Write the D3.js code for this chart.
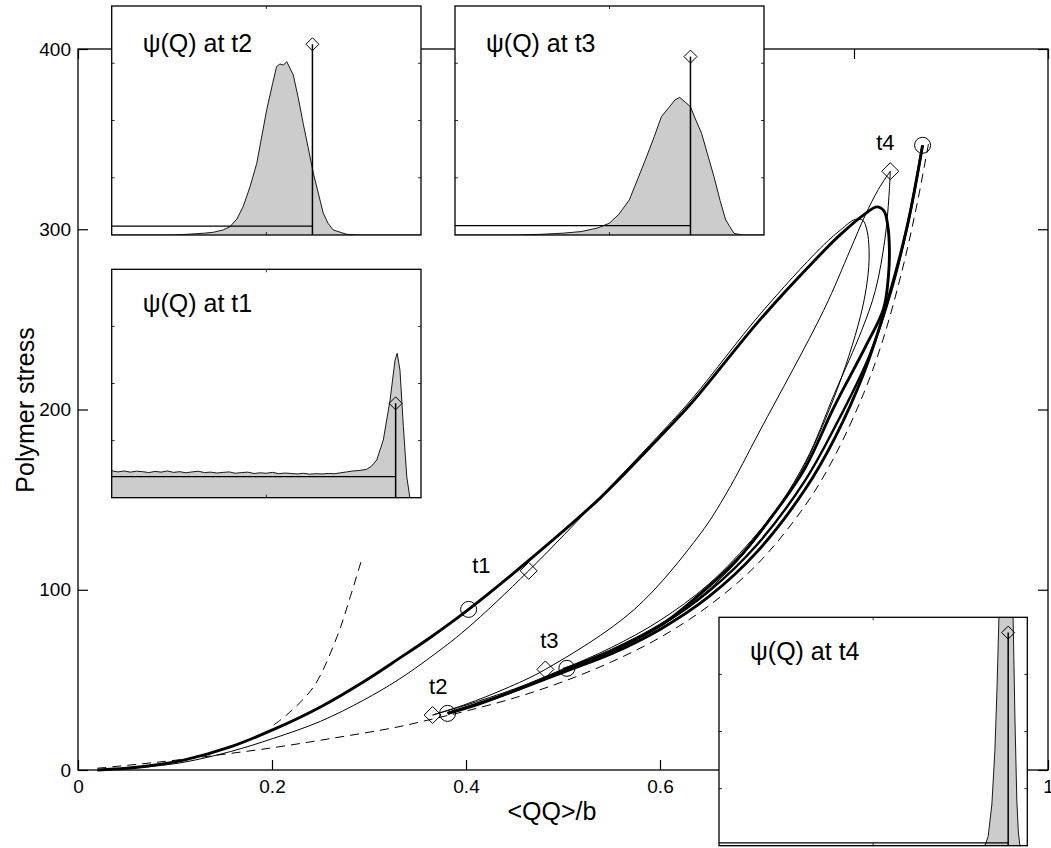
<!DOCTYPE html>
<html>
<head>
<meta charset="utf-8">
<script src="https://cdn.jsdelivr.net/npm/d3@7"></script>
<style>
  body { margin: 0; background: #fff; }
  text { font-family: 'Liberation Sans', Arial, Helvetica, sans-serif; fill: #000; }
</style>
</head>
<body>
<script>
// main axes ticks
const xTicks = [0, 0.2, 0.4, 0.6, 0.8, 1]
const yTicks = [0, 100, 200, 300, 400]

// thick line: start-up, overshoot loop, relaxation down to t2
const thickA = [[0.02,0],[0.05,1],[0.08,2.8],[0.11,5.6],[0.157,12.8],[0.2017,22.5],[0.25,35],[0.2945,49],
  [0.33,61.5],[0.3632,73.5],[0.4027,89.1],[0.4663,117],[0.5385,151],[0.6037,187],[0.6347,205],[0.7034,250],
  [0.7653,286],[0.7859,297],[0.81,308],[0.8237,312.4],[0.8310,310],[0.8348,302],[0.8365,289],[0.8355,274],
  [0.8305,256],[0.812,235],[0.78,202],[0.75,168],[0.72,144],[0.68,117],[0.64,97],[0.60,80],[0.55,66],
  [0.50,55],[0.45,44],[0.41,36],[0.381,31.4]]
// thick line: second start-up t2 -> t3 -> t4
const thickB = [[0.381,31.4],[0.43,40],[0.504,55],[0.55,64.5],[0.60,78],[0.65,96],[0.70,121],[0.75,156],
  [0.78,184],[0.81,220],[0.835,261],[0.855,302],[0.8707,346.6]]
// thick line: relaxation after t4
const thickC = [[0.8707,346.6],[0.857,307],[0.839,267],[0.816,230],[0.78,190],[0.75,161],[0.70,125],
  [0.65,99],[0.60,80],[0.55,66],[0.50,56]]
// thin line: start-up, loop, relaxation down to t2
const thinA = [[0.02,0],[0.05,0.8],[0.08,2.2],[0.11,4.4],[0.157,10.2],[0.2017,17.6],[0.25,27],[0.2945,38.8],
  [0.33,50],[0.3632,62.5],[0.40,78],[0.4646,110.5],[0.5385,151.5],[0.6037,188.5],[0.6347,207],[0.7034,253],
  [0.7653,289.5],[0.7859,299.5],[0.8014,305.5],[0.809,305],[0.8135,299],[0.8155,289],[0.8145,275],[0.8065,251.4],
  [0.779,206],[0.7378,158],[0.70,131],[0.65,103],[0.60,83],[0.55,68],[0.50,56],[0.45,45],[0.40,36],[0.3656,30.5]]
// thin line: second start-up t2 -> t3 -> t4
const thinB = [[0.3656,30.5],[0.40,36.5],[0.44,45],[0.4818,55.8],[0.5727,88.7],[0.6415,131],[0.669,154],
  [0.7034,188.6],[0.7687,255],[0.796,288.4],[0.8116,307.8],[0.825,322],[0.8374,332.2]]
// thin line: relaxation after t4
const thinC = [[0.8374,332.2],[0.836,318],[0.832,295],[0.822,266],[0.808,244],[0.78,209],[0.75,171],
  [0.70,129],[0.65,100],[0.60,81],[0.55,67],[0.50,56]]
// dashed reference curves
const dashedLow = [[0.02,1],[0.06,3.1],[0.10,5.4],[0.157,9.2],[0.20,12.3],[0.26,17.4],[0.3289,23.8],
  [0.3656,28.3],[0.40,32.7],[0.45,40],[0.50,49],[0.55,60],[0.60,73.5],[0.65,91],[0.70,114],[0.75,147],
  [0.78,174],[0.81,209],[0.83,239],[0.85,278],[0.865,314],[0.877,348]]
const dashedLeft = [[0.2017,25],[0.215,30.5],[0.2429,46.2],[0.267,73.9],[0.2807,96.1],[0.2928,117.4]]

// marker positions
const circles = [[0.4027,89.1],[0.381,31.4],[0.504,56.4],[0.8707,346.6]]
const diamonds = [[0.4646,110.5],[0.3656,30.5],[0.4818,55.8],[0.8374,332.2]]
const timeLabels = ['t1','t2','t3','t4']
const labelPos = [[0.4158,109.3],[0.3714,42.2],[0.4859,67.7],[0.8323,343.9]]

// inset distributions psi(Q), u = position in the inset, v = height
const distT1 = [[0,0.118],[0.02,0.113],[0.04,0.117],[0.06,0.112],[0.08,0.116],[0.10,0.114],[0.12,0.110],
  [0.14,0.115],[0.16,0.112],[0.18,0.117],[0.20,0.111],[0.22,0.114],[0.24,0.109],[0.26,0.113],[0.28,0.116],
  [0.30,0.110],[0.32,0.112],[0.34,0.108],[0.36,0.111],[0.38,0.113],[0.40,0.107],[0.42,0.110],[0.44,0.112],
  [0.46,0.106],[0.48,0.109],[0.50,0.107],[0.52,0.111],[0.54,0.105],[0.56,0.108],[0.58,0.106],[0.60,0.104],
  [0.62,0.107],[0.64,0.103],[0.66,0.105],[0.68,0.104],[0.70,0.106],[0.72,0.105],[0.74,0.109],[0.76,0.113],
  [0.78,0.117],[0.80,0.119],[0.824,0.124],[0.84,0.138],[0.857,0.165],[0.878,0.252],[0.90,0.427],[0.916,0.602],
  [0.923,0.632],[0.932,0.559],[0.943,0.311],[0.954,0.092],[0.964,0],[1,0]]
const distT2 = [[0,0],[0.20,0],[0.242,0.003],[0.30,0.008],[0.329,0.012],[0.36,0.022],[0.382,0.036],[0.405,0.07],
  [0.425,0.124],[0.447,0.21],[0.469,0.313],[0.501,0.546],[0.52,0.66],[0.533,0.735],[0.544,0.747],[0.555,0.742],
  [0.566,0.757],[0.587,0.699],[0.603,0.6],[0.619,0.488],[0.652,0.27],[0.684,0.095],[0.70,0.05],[0.716,0.022],
  [0.76,0.003],[0.80,0],[1,0]]
const distT3 = [[0,0],[0.20,0],[0.277,0.003],[0.35,0.008],[0.408,0.015],[0.46,0.03],[0.499,0.051],[0.53,0.09],
  [0.564,0.153],[0.59,0.24],[0.616,0.328],[0.645,0.43],[0.668,0.517],[0.694,0.56],[0.712,0.59],[0.727,0.601],
  [0.745,0.58],[0.762,0.56],[0.78,0.5],[0.798,0.444],[0.82,0.34],[0.838,0.255],[0.858,0.15],[0.876,0.066],
  [0.903,0.007],[0.93,0],[1,0]]
const distT4 = [[0,0],[0.85,0],[0.863,0.002],[0.873,0.04],[0.885,0.18],[0.895,0.42],[0.902,0.7],[0.908,1.0],
  [0.92,1.8],[0.935,2.4],[0.945,1.8],[0.954,1.0],[0.96,0.55],[0.966,0.2],[0.971,0.06],[0.976,0],[1,0]]

// stem (vertical line + diamond) and horizontal level in each inset
const insetNames = ['t1','t2','t3','t4']
const stemU = [0.918, 0.649, 0.762, 0.938]
const stemV = [0.413, 0.833, 0.779, 0.933]
const levelV = [0.092, 0.039, 0.041, 0.012]

const W = 1051, H = 848
const svg = d3.select('body').append('svg').attr('width', W).attr('height', H)

const x = d3.scaleLinear().domain([0, 1]).range([78, 1048])
const y = d3.scaleLinear().domain([0, 400]).range([770, 49])

// ---- main axes
const axes = svg.append('g')

axes.append('g')
  .attr('transform', 'translate(0,770)')
  .call(d3.axisBottom(x).tickValues(xTicks).tickSize(-10).tickSizeOuter(0).tickPadding(10)
    .tickFormat(d => d === 0 || d === 1 ? d3.format('d')(d) : d3.format('.1f')(d)))
axes.append('g')
  .attr('transform', 'translate(0,49)')
  .call(d3.axisTop(x).tickValues(xTicks).tickSize(-10).tickSizeOuter(0).tickFormat(''))
axes.append('g')
  .attr('transform', 'translate(78,0)')
  .call(d3.axisLeft(y).tickValues(yTicks).tickSize(-10).tickSizeOuter(0).tickPadding(7))
axes.append('g')
  .attr('transform', 'translate(1048,0)')
  .call(d3.axisRight(y).tickValues(yTicks).tickSize(-10).tickSizeOuter(0).tickFormat(''))

axes.selectAll('.domain').remove()
axes.selectAll('.tick line').attr('stroke', '#000').attr('stroke-width', 1.2)
axes.selectAll('.tick text').style('font-size', '19px')

axes.append('rect')
  .attr('x', 78).attr('y', 49).attr('width', 970).attr('height', 721)
  .attr('fill', 'none').attr('stroke', '#000').attr('stroke-width', 1.3)

svg.append('text')
  .attr('x', 552).attr('y', 820)
  .attr('text-anchor', 'middle')
  .style('font-size', '25px')
  .text('<QQ>/b')

svg.append('text')
  .attr('transform', 'translate(34,410) rotate(-90)')
  .attr('text-anchor', 'middle')
  .style('font-size', '25px')
  .text('Polymer stress')

// ---- curves
const line = d3.line()
  .x(d => x(d[0]))
  .y(d => y(d[1]))
  .curve(d3.curveCatmullRom.alpha(0.5))

const curves = [
  { data: dashedLow, w: 1, dash: '9,6' },
  { data: dashedLeft, w: 1, dash: '9,6' },
  { data: thinA, w: 1 },
  { data: thinB, w: 1 },
  { data: thinC, w: 1 },
  { data: thickA, w: 2.9 },
  { data: thickB, w: 2.9 },
  { data: thickC, w: 2.4 }
]

svg.append('g').selectAll('path')
  .data(curves)
  .enter()
  .append('path')
  .attr('d', d => line(d.data))
  .attr('fill', 'none')
  .attr('stroke', '#000')
  .attr('stroke-width', d => d.w)
  .attr('stroke-dasharray', d => d.dash || null)
  .attr('stroke-linejoin', 'round')

// markers
svg.append('g').selectAll('circle')
  .data(circles)
  .enter()
  .append('circle')
  .attr('cx', d => x(d[0]))
  .attr('cy', d => y(d[1]))
  .attr('r', 8)
  .attr('fill', 'none')
  .attr('stroke', '#000')
  .attr('stroke-width', 1)

const diamondPath = s => `M0,${-s} L${s},0 L0,${s} L${-s},0 Z`

svg.append('g').selectAll('path')
  .data(diamonds)
  .enter()
  .append('path')
  .attr('transform', d => `translate(${x(d[0])},${y(d[1])})`)
  .attr('d', diamondPath(8.5))
  .attr('fill', 'none')
  .attr('stroke', '#000')
  .attr('stroke-width', 1)

svg.append('g').selectAll('text')
  .data(labelPos)
  .enter()
  .append('text')
  .attr('x', d => x(d[0]))
  .attr('y', d => y(d[1]))
  .attr('text-anchor', 'middle')
  .style('font-size', '22px')
  .text((d, i) => timeLabels[i])

// ---- insets
const insetBoxes = [
  { x: 111.7, y: 269.3, w: 309.3, h: 228.4 },
  { x: 111.7, y: 6, w: 309.3, h: 229 },
  { x: 455, y: 6, w: 309, h: 229 },
  { x: 719, y: 617.3, w: 308.3, h: 228.4 }
]
const dists = [distT1, distT2, distT3, distT4]

insetBoxes.forEach((box, i) => {
  const g = svg.append('g').attr('transform', `translate(${box.x},${box.y})`)
  const u = d3.scaleLinear().domain([0, 1]).range([0, box.w])
  const v = d3.scaleLinear().domain([0, 1]).range([box.h, 0])

  const clipId = `clip-${i}`
  g.append('clipPath').attr('id', clipId)
    .append('rect').attr('width', box.w).attr('height', box.h)

  g.append('rect')
    .attr('width', box.w).attr('height', box.h)
    .attr('fill', '#fff')

  const inner = g.append('g').attr('clip-path', `url(#${clipId})`)

  const area = d3.area()
    .x(d => u(d[0]))
    .y0(v(0))
    .y1(d => v(d[1]))
  const outline = d3.line()
    .x(d => u(d[0]))
    .y(d => v(d[1]))

  inner.append('path')
    .attr('d', area(dists[i]))
    .attr('fill', '#cccccc')
  inner.append('path')
    .attr('d', outline(dists[i]))
    .attr('fill', 'none')
    .attr('stroke', '#000')
    .attr('stroke-width', 0.9)

  // horizontal level
  inner.append('line')
    .attr('x1', u(0)).attr('x2', u(stemU[i]))
    .attr('y1', v(levelV[i])).attr('y2', v(levelV[i]))
    .attr('stroke', '#000').attr('stroke-width', 1.2)

  // stem
  inner.append('line')
    .attr('x1', u(stemU[i])).attr('x2', u(stemU[i]))
    .attr('y1', v(0)).attr('y2', v(stemV[i]))
    .attr('stroke', '#000').attr('stroke-width', 1.5)
  inner.append('path')
    .attr('transform', `translate(${u(stemU[i])},${v(stemV[i])})`)
    .attr('d', diamondPath(6.5))
    .attr('fill', 'none')
    .attr('stroke', '#000')
    .attr('stroke-width', 1)

  // small ticks
  const tv = [0.25, 0.5, 0.75]
  tv.forEach(t => {
    g.append('line').attr('x1', 0).attr('x2', 3).attr('y1', v(t)).attr('y2', v(t))
      .attr('stroke', '#000').attr('stroke-width', 0.8)
    g.append('line').attr('x1', box.w - 3).attr('x2', box.w).attr('y1', v(t)).attr('y2', v(t))
      .attr('stroke', '#000').attr('stroke-width', 0.8)
  })
  g.append('line').attr('x1', u(0.5)).attr('x2', u(0.5)).attr('y1', 0).attr('y2', 3)
    .attr('stroke', '#000').attr('stroke-width', 0.8)
  g.append('line').attr('x1', u(0.5)).attr('x2', u(0.5)).attr('y1', box.h - 3).attr('y2', box.h)
    .attr('stroke', '#000').attr('stroke-width', 0.8)

  g.append('rect')
    .attr('width', box.w).attr('height', box.h)
    .attr('fill', 'none')
    .attr('stroke', '#000')
    .attr('stroke-width', 1.3)

  g.append('text')
    .attr('x', 31).attr('y', i === 1 || i === 2 ? 46 : 43)
    .style('font-size', '25px')
    .text(`ψ(Q) at ${insetNames[i]}`)
})
</script>
</body>
</html>
